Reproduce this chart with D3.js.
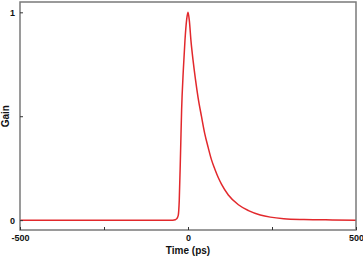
<!DOCTYPE html>
<html><head><meta charset="utf-8">
<script src="https://cdn.jsdelivr.net/npm/d3@7/dist/d3.min.js"></script>
<style>html,body{margin:0;padding:0;background:#fff;}svg{display:block;}</style>
</head><body>
<script>
const time = [-500, -300, -100, -45, -38, -34, -29, -26, -22, -19, -14, -9, -4, 0, 4, 9, 15, 22, 30, 40, 50, 60, 70, 80, 90, 100, 120, 150, 180, 215, 245, 285, 345, 430, 500];
const gain = [0, 0, 0, 0, 0.002, 0.006, 0.023, 0.095, 0.336, 0.53, 0.72, 0.866, 0.965, 1.0, 0.96, 0.86, 0.77, 0.68, 0.59, 0.50, 0.415, 0.35, 0.29, 0.245, 0.205, 0.172, 0.121, 0.074, 0.046, 0.025, 0.0145, 0.007, 0.003, 0.001, 0];
const xTicks = [-500, -250, 0, 250, 500];
const xTickLabels = ["-500", "", "0", "", "500"];
const yTicks = [0, 0.5, 1];
const yTickLabels = ["0", "", "1"];

const W = 363, H = 256;
const m = {left: 20, right: 7, top: 2, bottom: 26};
const svg = d3.select("body").append("svg").attr("width", W).attr("height", H);
const x = d3.scaleLinear().domain([-500, 500]).range([m.left, W - m.right]);
const y = d3.scaleLinear().domain([-0.0475, 1.0497]).range([H - m.bottom, m.top]);

const frameColor = "#7a7a7a";
const font = "'Liberation Sans', Arial, sans-serif";

// curve
const data = time.map((t, i) => ({t, g: gain[i]}));
svg.append("path").datum(data)
  .attr("fill", "none").attr("stroke", "#e2282c").attr("stroke-width", 1.5)
  .attr("d", d3.line().x(d => x(d.t)).y(d => y(d.g)).curve(d3.curveMonotoneX));

// frame
svg.append("rect").attr("x", m.left).attr("y", m.top)
  .attr("width", W - m.right - m.left).attr("height", H - m.bottom - m.top)
  .attr("fill", "none").attr("stroke", frameColor).attr("stroke-width", 1.5);

// x axis (inward ticks)
const xAxis = d3.axisBottom(x).tickValues(xTicks).tickSize(-3).tickPadding(5)
  .tickFormat((d, i) => xTickLabels[i]);
const gx = svg.append("g").attr("transform", `translate(0,${H - m.bottom})`).call(xAxis);
gx.select(".domain").remove();
gx.selectAll(".tick line").attr("stroke", "#333");
gx.selectAll("text").attr("font-family", font).attr("font-weight", "bold")
  .attr("font-size", 9).attr("fill", "#111");

// y axis
const yAxis = d3.axisLeft(y).tickValues(yTicks).tickSize(-3).tickPadding(5)
  .tickFormat((d, i) => yTickLabels[i]);
const gy = svg.append("g").attr("transform", `translate(${m.left},0)`).call(yAxis);
gy.select(".domain").remove();
gy.selectAll(".tick line").attr("stroke", "#333");
gy.selectAll("text").attr("font-family", font).attr("font-weight", "bold")
  .attr("font-size", 9).attr("fill", "#111");

// titles
svg.append("text").attr("x", x(0)).attr("y", 253.5).attr("text-anchor", "middle")
  .attr("font-family", font).attr("font-weight", "bold").attr("font-size", 10)
  .attr("fill", "#111").text("Time (ps)");
svg.append("text").attr("transform", `translate(9,${y(0.5)}) rotate(-90)`)
  .attr("text-anchor", "middle")
  .attr("font-family", font).attr("font-weight", "bold").attr("font-size", 10)
  .attr("fill", "#111").text("Gain");
</script>
</body></html>
